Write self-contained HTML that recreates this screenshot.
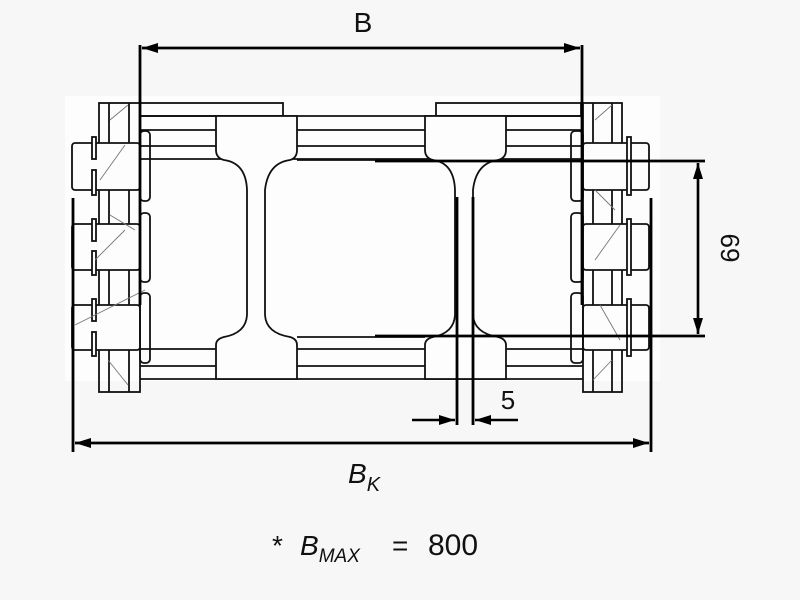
<!DOCTYPE html>
<html><head><meta charset="utf-8"><style>
html,body{margin:0;padding:0;background:#f7f7f7;}
svg{display:block}
text{font-family:"Liberation Sans",sans-serif;fill:#111}
</style></head><body>
<svg width="800" height="600" viewBox="0 0 800 600" xmlns="http://www.w3.org/2000/svg">
<defs>
<marker id="ar" markerWidth="16" markerHeight="10" refX="16" refY="5" orient="auto" markerUnits="userSpaceOnUse"><path d="M0,0 L16,5 L0,10 z" fill="#000"/></marker>
</defs>
<rect x="0" y="0" width="800" height="600" fill="#f7f7f7"/>
<rect x="65" y="96" width="595" height="285" fill="#fdfdfd"/>
<g fill="none" stroke="#111" stroke-width="1.8">
<rect x="140" y="103" width="143" height="13"/>
<rect x="436" y="103" width="145" height="13"/>
<line x1="140" y1="116" x2="583" y2="116"/>
<line x1="140" y1="130" x2="583" y2="130"/>
<line x1="140" y1="146" x2="583" y2="146"/>
<line x1="140" y1="159" x2="583" y2="159"/>
<line x1="140" y1="349" x2="583" y2="349"/>
<line x1="140" y1="366" x2="583" y2="366"/>
<line x1="140" y1="379" x2="583" y2="379"/>
<path d="M216,116 H297 V150 Q297,158 290,160 Q268,163 265,190 V315 Q266,333 290,337 Q297,339 297,345 V379 H216 V345 Q216,339 224,337 Q246,333 247,315 V190 Q246,163 224,160 Q216,158 216,150 Z" fill="#fdfdfd"/>
<path d="M425,116 H506 V150 Q506,158 498,160 Q476,163 473,190 V315 Q474,333 498,337 Q506,339 506,345 V379 H425 V345 Q425,339 433,337 Q454,333 455,315 V190 Q454,163 433,160 Q425,158 425,150 Z" fill="#fdfdfd"/>
<path d="M297,160 H425"/><path d="M297,337 H425"/>
<rect x="99" y="103" width="41" height="289"/>
<line x1="109" y1="103" x2="109" y2="392"/>
<line x1="129" y1="103" x2="129" y2="392"/>
<rect x="72" y="143" width="68" height="47" rx="3" fill="#fdfdfd"/>
<rect x="72" y="224" width="68" height="46" rx="3" fill="#fdfdfd"/>
<rect x="72" y="305" width="68" height="45" rx="3" fill="#fdfdfd"/>
<rect x="92" y="137" width="4" height="22" fill="#fdfdfd"/><rect x="92" y="170" width="4" height="25" fill="#fdfdfd"/>
<rect x="92" y="219" width="4" height="22" fill="#fdfdfd"/><rect x="92" y="251" width="4" height="24" fill="#fdfdfd"/>
<rect x="92" y="299" width="4" height="22" fill="#fdfdfd"/><rect x="92" y="332" width="4" height="24" fill="#fdfdfd"/>
<rect x="140" y="131" width="10" height="70" rx="4"/>
<rect x="140" y="213" width="10" height="69" rx="4"/>
<rect x="140" y="293" width="10" height="70" rx="4"/>
<rect x="583" y="103" width="39" height="289"/>
<line x1="593" y1="103" x2="593" y2="392"/>
<line x1="612" y1="103" x2="612" y2="392"/>
<rect x="583" y="143" width="66" height="47" rx="3" fill="#fdfdfd"/>
<rect x="583" y="224" width="66" height="46" rx="3" fill="#fdfdfd"/>
<rect x="583" y="305" width="66" height="45" rx="3" fill="#fdfdfd"/>
<rect x="627" y="137" width="4" height="58" fill="#fdfdfd"/>
<rect x="627" y="219" width="4" height="56" fill="#fdfdfd"/>
<rect x="627" y="299" width="4" height="57" fill="#fdfdfd"/>
<rect x="571" y="131" width="12" height="70" rx="4"/>
<rect x="571" y="213" width="12" height="69" rx="4"/>
<rect x="571" y="293" width="12" height="70" rx="4"/>
</g>
<g stroke="#777" stroke-width="0.9">
<line x1="110" y1="120" x2="128" y2="105"/><line x1="100" y1="180" x2="125" y2="145"/><line x1="110" y1="215" x2="135" y2="230"/><line x1="95" y1="260" x2="125" y2="230"/><line x1="75" y1="325" x2="145" y2="290"/>
<line x1="108" y1="360" x2="128" y2="385"/><line x1="595" y1="120" x2="612" y2="105"/><line x1="595" y1="190" x2="615" y2="210"/><line x1="595" y1="260" x2="620" y2="225"/><line x1="600" y1="305" x2="620" y2="340"/><line x1="593" y1="380" x2="612" y2="360"/>
</g>
<g stroke="#000" stroke-width="2.8" fill="none">
<line x1="140" y1="45" x2="140" y2="305"/>
<line x1="582" y1="45" x2="582" y2="305"/>
<line x1="375" y1="161" x2="705" y2="161"/>
<line x1="375" y1="336" x2="705" y2="336"/>
<line x1="457" y1="197" x2="457" y2="425"/>
<line x1="473" y1="197" x2="473" y2="425"/>
<line x1="73" y1="198" x2="73" y2="452"/>
<line x1="651" y1="198" x2="651" y2="452"/>
</g>
<g stroke="#000" stroke-width="2.4" fill="none">
<line x1="142" y1="48" x2="580" y2="48" marker-end="url(#ar)"/>
<line x1="580" y1="48" x2="142" y2="48" marker-end="url(#ar)"/>
<line x1="75" y1="443" x2="649" y2="443" marker-end="url(#ar)"/>
<line x1="649" y1="443" x2="75" y2="443" marker-end="url(#ar)"/>
<line x1="698" y1="163" x2="698" y2="334" marker-end="url(#ar)"/>
<line x1="698" y1="334" x2="698" y2="163" marker-end="url(#ar)"/>
<line x1="412" y1="420" x2="455" y2="420" marker-end="url(#ar)"/>
<line x1="518" y1="420" x2="475" y2="420" marker-end="url(#ar)"/>
</g>
<text x="363" y="32" font-size="28" text-anchor="middle">B</text>
<text x="508" y="409" font-size="26" text-anchor="middle">5</text>
<text x="728" y="248" font-size="26" text-anchor="middle" transform="rotate(90 728 248)" dominant-baseline="middle">69</text>
<text x="348" y="483" font-size="28" font-style="italic" font-family="Liberation Serif">B<tspan font-size="20" dy="8">K</tspan></text>
<text x="272" y="555" font-size="28">*</text>
<text x="300" y="555" font-size="28" font-style="italic" font-family="Liberation Serif">B<tspan font-size="19" dy="7">MAX</tspan></text>
<text x="392" y="555" font-size="28">=</text>
<text x="428" y="555" font-size="30">800</text>
</svg>
</body></html>
